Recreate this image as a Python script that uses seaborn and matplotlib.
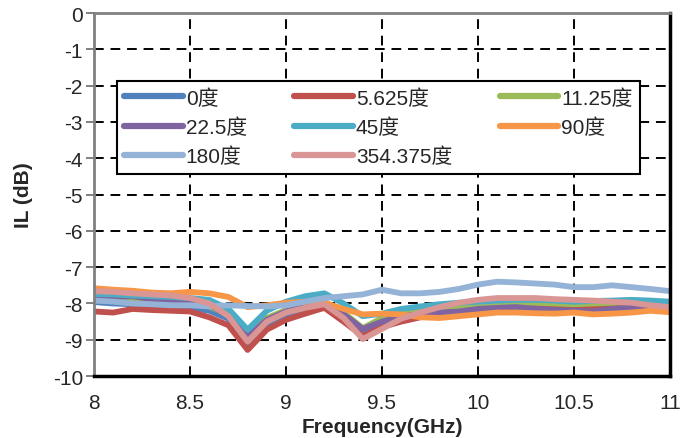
import numpy as np
import pandas as pd
import matplotlib
matplotlib.use('Agg')
import matplotlib.pyplot as plt
import seaborn as sns

# frequency axis (GHz), 0.1 GHz steps
freq = np.round(np.arange(8.0, 11.01, 0.1), 2)

il_0 = [-7.96, -8.00, -8.02, -8.05, -8.10, -8.12, -8.20, -8.42, -9.10, -8.55, -8.32,
        -8.20, -8.10, -8.42, -8.80, -8.55, -8.42, -8.32, -8.25, -8.20, -8.15,
        -8.12, -8.10, -8.08, -8.08, -8.07, -8.10, -8.05, -8.05, -8.03, -8.04]
il_5625 = [-8.22, -8.25, -8.15, -8.18, -8.20, -8.22, -8.38, -8.60, -9.28, -8.72, -8.45,
           -8.28, -8.12, -8.50, -8.90, -8.65, -8.50, -8.38, -8.25, -8.15, -8.08,
           -8.05, -8.05, -8.06, -8.08, -8.10, -8.12, -8.10, -8.15, -8.12, -8.16]
il_1125 = [-7.85, -7.90, -7.90, -7.95, -7.98, -8.00, -8.08, -8.30, -8.90, -8.40, -8.18,
           -8.05, -7.95, -8.25, -8.68, -8.40, -8.25, -8.18, -8.12, -8.08, -8.02,
           -8.00, -7.98, -7.98, -8.00, -8.02, -8.00, -7.98, -7.96, -7.95, -7.98]
il_225 = [-7.77, -7.82, -7.80, -7.88, -7.90, -7.95, -8.02, -8.35, -8.92, -8.45, -8.22,
          -8.08, -7.98, -8.30, -8.70, -8.50, -8.35, -8.30, -8.25, -8.22, -8.15,
          -8.12, -8.10, -8.15, -8.18, -8.20, -8.22, -8.15, -8.12, -8.08, -8.06]
il_45 = [-7.74, -7.75, -7.78, -7.80, -7.82, -7.85, -7.90, -8.15, -8.72, -8.20, -7.95,
         -7.80, -7.72, -8.00, -8.35, -8.28, -8.15, -8.08, -8.02, -7.98, -7.95,
         -7.92, -7.90, -7.90, -7.92, -7.95, -7.93, -7.92, -7.90, -7.92, -7.95]
il_90 = [-7.58, -7.62, -7.65, -7.70, -7.72, -7.68, -7.72, -7.82, -8.10, -8.05, -7.98,
         -7.95, -7.98, -8.15, -8.30, -8.28, -8.30, -8.38, -8.40, -8.35, -8.30,
         -8.25, -8.25, -8.27, -8.28, -8.25, -8.30, -8.28, -8.25, -8.20, -8.24]
il_180 = [-7.92, -7.95, -8.00, -8.02, -8.05, -8.05, -8.08, -8.05, -8.07, -8.08, -8.05,
          -7.95, -7.85, -7.80, -7.75, -7.62, -7.72, -7.72, -7.68, -7.60, -7.48,
          -7.40, -7.42, -7.45, -7.48, -7.55, -7.55, -7.50, -7.55, -7.60, -7.66]
il_354 = [-7.66, -7.68, -7.72, -7.75, -7.78, -7.85, -8.00, -8.35, -9.05, -8.50, -8.25,
          -8.12, -8.02, -8.40, -8.98, -8.70, -8.42, -8.25, -8.10, -7.98, -7.90,
          -7.85, -7.85, -7.85, -7.88, -7.90, -7.92, -7.95, -7.98, -8.05, -8.10]

labels = ['0度', '5.625度', '11.25度', '22.5度', '45度', '90度', '180度', '354.375度']
series = [il_0, il_5625, il_1125, il_225, il_45, il_90, il_180, il_354]
colors = ['#4F81BD', '#C0504D', '#9BBB59', '#8064A2', '#4BACC6', '#F79646', '#95B3D7', '#DA9694']

df = pd.concat([pd.DataFrame({'freq': freq, 'il': vals, 'state': lab})
                for lab, vals in zip(labels, series)], ignore_index=True)

sns.set_style('white')
plt.rcParams['font.family'] = ['Liberation Sans', 'Noto Sans CJK SC']
plt.rcParams['axes.unicode_minus'] = False

fig = plt.figure(figsize=(6.97, 4.39), dpi=100)
ax = fig.add_axes([0.135, 0.141, 0.826, 0.827])

sns.lineplot(data=df, x='freq', y='il', hue='state', hue_order=labels,
             palette=colors, linewidth=4.2, ax=ax, legend=True)
for ln in ax.get_lines():
    ln.set_solid_joinstyle('round')

ax.set_xlim(8, 11)
ax.set_ylim(-10, 0)
ax.set_xticks([8, 8.5, 9, 9.5, 10, 10.5, 11])
ax.set_xticklabels(['8', '8.5', '9', '9.5', '10', '10.5', '11'])
ax.set_yticks(range(-10, 1))
ax.grid(True, color='black', linestyle=(0, (5, 3.5)), linewidth=1.4)
ax.tick_params(axis='x', length=0, pad=12, labelsize=15)
ax.tick_params(axis='y', length=6, width=1.4, color='#808080', left=True, pad=2, labelsize=15)

for side in ['left', 'top']:
    ax.spines[side].set_color('#808080')
    ax.spines[side].set_linewidth(2)
for side in ['right', 'bottom']:
    ax.spines[side].set_color('black')
    ax.spines[side].set_linewidth(2.5)

ax.set_xlabel('Frequency(GHz)', fontsize=15, fontweight='bold', labelpad=4)
ax.set_ylabel('IL (dB)', fontsize=15, fontweight='bold', labelpad=14)

handles, labs = ax.get_legend_handles_labels()
order = [0, 3, 6, 1, 4, 7, 2, 5]
leg = ax.legend([handles[i] for i in order], [labs[i] for i in order], ncol=3,
                loc='upper left', bbox_to_anchor=(0.04, 0.813, 0.908, 0.0),
                mode='expand', fontsize=15, handlelength=2.8, handletextpad=0.15,
                labelspacing=0.47, borderpad=0.35, borderaxespad=0,
                fancybox=False, frameon=True, framealpha=1)
leg.get_frame().set_edgecolor('black')
leg.get_frame().set_linewidth(1.5)
for ln in leg.get_lines():
    ln.set_linewidth(4.5)
    ln.set_solid_capstyle('round')

fig.savefig('out.png', dpi=100)
